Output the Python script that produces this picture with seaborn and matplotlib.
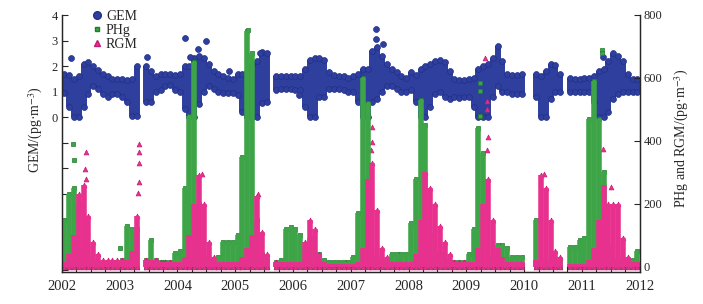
import numpy as np
import pandas as pd
import matplotlib
matplotlib.use("Agg")
import matplotlib.pyplot as plt
import seaborn as sns
from matplotlib.lines import Line2D
from matplotlib.ticker import MultipleLocator

nan = np.nan

# monthly envelopes (Jan..Dec for 2002..2011)
years = list(range(2002, 2012))

# GEM on the left axis: lower / upper edge of the point cloud
gem_lo = [
    0.95, 0.4, 0.0, 0.0, 0.4, 0.9, 1.2, 1.1, 0.9, 0.8, 0.9, 0.9,       # 2002
    0.8, 0.6, 0.05, 0.05, nan, 0.6, 0.6, 1.0, 1.05, 1.2, 1.25, 1.05,   # 2003
    1.0, 0.3, 0.0, 0.0, 0.5, 1.0, 1.2, 1.1, 1.0, 0.95, 0.95, 0.95,     # 2004
    0.85, 0.2, 0.0, 0.0, 0.0, 0.55, 0.6, nan, 1.05, 1.1, 1.1, 1.1,     # 2005
    1.05, 1.05, 0.4, 0.0, 0.0, 0.8, 0.8, 1.1, 1.1, 1.1, 1.05, 1.0,     # 2006
    1.0, 0.6, 0.0, 0.0, 0.6, 0.7, 1.0, 1.2, 1.2, 1.1, 1.0, 1.0,        # 2007
    1.05, 0.6, 0.0, 0.0, 0.4, 0.9, 1.0, 0.8, 0.7, 0.8, 0.75, 0.8,      # 2008
    0.8, 0.4, 0.0, 0.0, 0.0, 0.8, 1.2, 1.0, 1.0, 0.9, 0.9, 0.9,        # 2009
    nan, nan, 0.8, 0.0, 0.0, 0.7, 1.0, 1.0, nan, 1.0, 1.0, 1.0,        # 2010
    1.0, 1.0, 0.6, 0.0, 0.0, 0.2, 0.7, 0.9, 1.0, 1.0, 1.0, 1.0,        # 2011
]
gem_hi = [
    1.7, 1.65, 1.5, 1.6, 2.1, 2.15, 2.0, 1.85, 1.7, 1.6, 1.5, 1.5,     # 2002
    1.5, 1.45, 1.5, 2.0, nan, 2.0, 1.8, 1.6, 1.7, 1.7, 1.7, 1.65,      # 2003
    1.7, 2.0, 2.0, 2.3, 2.4, 2.3, 2.1, 1.8, 1.7, 1.6, 1.55, 1.5,       # 2004
    1.7, 1.7, 1.75, 2.1, 2.2, 2.55, 2.5, nan, 1.6, 1.6, 1.6, 1.6,      # 2005
    1.6, 1.6, 1.9, 2.25, 2.3, 2.3, 2.25, 1.75, 1.65, 1.6, 1.6, 1.55,   # 2006
    1.6, 1.7, 1.9, 1.9, 2.6, 2.75, 2.4, 2.1, 1.9, 1.75, 1.6, 1.55,     # 2007
    1.75, 1.65, 1.9, 2.0, 2.1, 2.2, 2.25, 2.15, 1.8, 1.5, 1.45, 1.45,  # 2008
    1.5, 1.55, 1.9, 2.0, 2.1, 2.3, 2.8, 2.2, 1.7, 1.65, 1.65, 1.7,     # 2009
    nan, nan, 1.7, 1.6, 1.8, 2.1, 2.05, 1.7, nan, 1.55, 1.5, 1.5,      # 2010
    1.55, 1.55, 1.6, 1.8, 1.9, 2.2, 2.5, 2.4, 2.2, 1.7, 1.5, 1.5,      # 2011
]
gem_out_t = [2002.15, 2003.48, 2004.13, 2004.21, 2004.36, 2004.50, 2004.89,
             2005.43, 2006.10, 2007.43, 2007.43, 2007.55, 2011.36]
gem_out_v = [2.33, 2.35, 3.12, 2.36, 2.68, 2.98, 1.8,
             2.5, 0.86, 3.46, 3.07, 2.85, 2.35]

# PHg, right axis: upper edge of the cloud (cloud starts at 0)
phg_hi = [
    150, 230, 250, 200, 60, 20, 15, 10, 10, 10, 15, 15,       # 2002
    20, 130, 120, 120, nan, 20, 85, 20, 15, 15, 15, 45,       # 2003
    50, 250, 480, 650, 200, 30, 20, 20, 30, 80, 80, 80,       # 2004
    100, 350, 750, 680, 150, 40, 20, nan, 15, 20, 120, 125,   # 2005
    120, 100, 60, 90, 30, 40, 20, 15, 15, 15, 15, 15,         # 2006
    30, 170, 600, 520, 30, 20, 15, 15, 40, 40, 40, 40,        # 2007
    140, 280, 530, 450, 100, 40, 40, 20, 15, 15, 15, 15,      # 2008
    40, 120, 440, 360, 30, 30, 68, 68, 60, 30, 30, 30,        # 2009
    nan, nan, 150, 20, 15, 15, 15, 20, nan, 63, 63, 85,       # 2010
    90, 470, 590, 470, 300, 60, 20, 20, 20, 20, 20, 50,       # 2011
]
phg_out_t = [2002.20, 2002.21, 2003.00, 2005.22, 2005.23, 2009.23, 2009.23,
             2009.24, 2011.20, 2011.34, 2011.35]
phg_out_v = [390, 340, 59, 752, 665, 584, 559, 480, 591, 690, 680]

# RGM, right axis: upper edge of the cloud (cloud starts at 0)
rgm_hi = [
    15, 40, 100, 230, 260, 160, 80, 40, 20, 20, 20, 20,       # 2002
    20, 20, 50, 160, nan, 20, 20, 20, 15, 15, 15, 15,         # 2003
    15, 30, 100, 200, 290, 200, 80, 30, 15, 15, 15, 15,       # 2004
    15, 30, 60, 100, 225, 110, 40, nan, 15, 15, 15, 15,       # 2005
    15, 15, 80, 150, 120, 40, 15, 10, 10, 10, 10, 10,         # 2006
    10, 15, 60, 280, 330, 180, 60, 30, 15, 15, 15, 15,        # 2007
    15, 40, 150, 300, 250, 200, 130, 80, 40, 15, 15, 15,      # 2008
    15, 15, 60, 200, 280, 150, 60, 30, 15, 15, 15, 15,        # 2009
    nan, nan, 20, 290, 250, 150, 50, 30, nan, 10, 10, 10,     # 2010
    10, 20, 60, 150, 260, 200, 200, 200, 90, 30, 15, 15,      # 2011
]
rgm_out_t = [2002.42, 2002.40, 2002.41, 2003.33, 2003.33, 2003.33, 2003.34,
             2003.32, 2004.42, 2005.40, 2007.37, 2007.37, 2007.35, 2009.33,
             2009.35, 2009.36, 2009.38, 2009.36, 2010.34, 2011.36, 2011.51]
rgm_out_v = [364, 311, 280, 391, 364, 330, 270,
             235, 295, 231, 443, 396, 370, 664,
             528, 500, 411, 370, 295, 374, 253]

BLUE, BLUE_E = "#2e3f9e", "#222f88"
GREEN, GREEN_E = "#3da447", "#1e7d2b"
PINK, PINK_E = "#e8318f", "#c41c74"

sns.set_style("ticks")
plt.rcParams["font.family"] = ["Liberation Serif", "DejaVu Serif"]
plt.rcParams["mathtext.fontset"] = "stix"

t = (np.array(years)[:, None] + (np.arange(12) + 0.5) / 12).ravel()


def cloud(lo, hi, out_t, out_v):
    lo = np.asarray(lo, float)
    hi = np.asarray(hi, float)
    df = pd.DataFrame({"t": np.r_[t, t, out_t], "v": np.r_[lo, hi, out_v]})
    return df.dropna()


fig = plt.figure(figsize=(7.03, 3.04), dpi=100)
ax = fig.add_axes([0.088, 0.105, 0.822, 0.847])
ax2 = ax.twinx()

# GEM on the left axis
lo = np.asarray(gem_lo, float)
hi = np.asarray(gem_hi, float)
ok = ~np.isnan(lo)
ax.vlines(t[ok], lo[ok], hi[ok], color=BLUE, lw=4.3, capstyle="butt", zorder=2)
sns.scatterplot(data=cloud(gem_lo, gem_hi, gem_out_t, gem_out_v), x="t", y="v",
                ax=ax, color=BLUE, edgecolor=BLUE_E, s=18, linewidth=0.5,
                legend=False, zorder=3)

# PHg and RGM on the right axis
zero = np.zeros(len(t))
for hi_vals, ot, ov, col, ec, mk, sz in [
        (phg_hi, phg_out_t, phg_out_v, GREEN, GREEN_E, "s", 11),
        (rgm_hi, rgm_out_t, rgm_out_v, PINK, PINK_E, "^", 12)]:
    hi = np.asarray(hi_vals, float)
    ok = ~np.isnan(hi)
    ax2.vlines(t[ok], zero[ok], hi[ok], color=col, lw=4.0, capstyle="butt")
    sns.scatterplot(data=cloud(np.where(ok, 0, nan), hi_vals, ot, ov), x="t", y="v",
                    ax=ax2, color=col, edgecolor=ec, marker=mk, s=sz,
                    linewidth=0.5, legend=False)

# axes
ax.set_xlim(2002, 2012)
ax.set_xticks(range(2002, 2013))
ax.xaxis.set_minor_locator(MultipleLocator(0.25))
ax.set_ylim(-6.08, 4.02)
ax.set_yticks(range(-6, 5))
ax.set_yticklabels([""] * 6 + ["0", "1", "2", "3", "4"])
ax2.set_ylim(-17, 801)
ax2.set_yticks(range(0, 801, 200))
ax.set_xlabel("")
ax.set_ylabel("GEM/(pg·m$^{-3}$)", fontsize=10)
ax2.set_xlabel("")
ax2.set_ylabel("PHg and RGM/(pg·m$^{-3}$)", fontsize=10, rotation=90)
ax.yaxis.set_label_coords(-0.03, 0.555)
ax2.yaxis.set_label_coords(1.057, 0.52)

for a in (ax, ax2):
    a.spines["top"].set_visible(False)
    for s in ("left", "right", "bottom"):
        a.spines[s].set_linewidth(0.9)
    a.tick_params(axis="both", which="both", direction="in", length=4,
                  width=0.8, labelsize=9, pad=3)
ax.tick_params(axis="x", labelsize=10.5, pad=6)

handles = [
    Line2D([], [], ls="", marker="o", ms=5.5, color=BLUE, mec=BLUE_E),
    Line2D([], [], ls="", marker="s", ms=3.5, color=GREEN, mec=GREEN_E),
    Line2D([], [], ls="", marker="^", ms=4, color=PINK, mec=PINK_E),
]
ax2.legend(handles, ["GEM", "PHg", "RGM"], loc="upper left",
           bbox_to_anchor=(0.051, 1.017), frameon=False, fontsize=10,
           handlelength=0.8, handletextpad=0.25, labelspacing=0.05,
           borderpad=0, borderaxespad=0)

fig.savefig("out.png", dpi=100)
